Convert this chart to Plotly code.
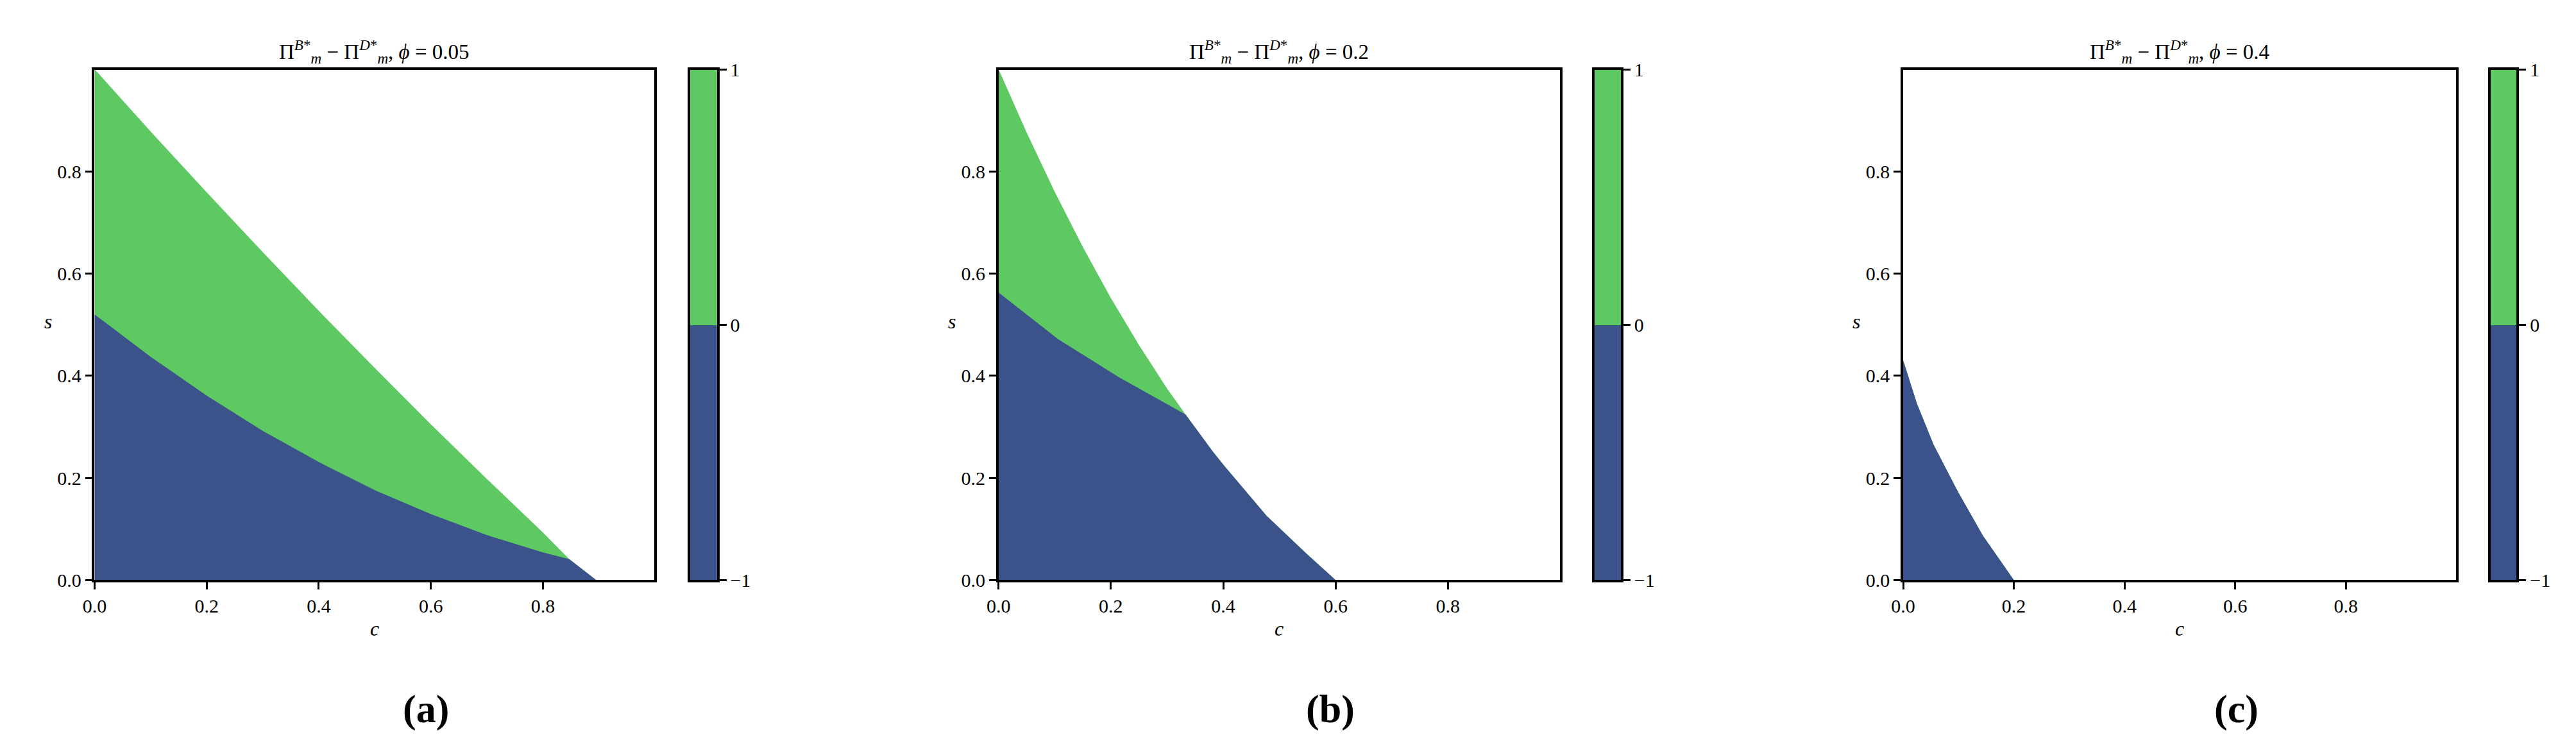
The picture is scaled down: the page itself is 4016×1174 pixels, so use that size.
import plotly.graph_objects as go

# ---------------- data ----------------
phis = ["0.05", "0.2", "0.4"]
panel_tags = ["(a)", "(b)", "(c)"]

# outer boundary of the region where the profit difference is defined
a_outer_c = [0.0, 0.1, 0.2, 0.3, 0.4, 0.5, 0.6, 0.7, 0.8, 0.847, 0.895]
a_outer_s = [1.0, 0.878, 0.759, 0.642, 0.527, 0.415, 0.305, 0.198, 0.093, 0.041, 0.0]
# divider between positive (green) and negative (blue) difference
a_div_c = [0.0, 0.1, 0.2, 0.3, 0.4, 0.5, 0.6, 0.7, 0.8, 0.847]
a_div_s = [0.52, 0.437, 0.361, 0.292, 0.231, 0.176, 0.129, 0.088, 0.054, 0.041]

b_outer_c = [0.0, 0.05, 0.1, 0.15, 0.2, 0.25, 0.3, 0.333, 0.381, 0.4016, 0.477, 0.548, 0.6]
b_outer_s = [1.0, 0.876, 0.760, 0.652, 0.552, 0.460, 0.375, 0.324, 0.252, 0.224, 0.126, 0.052, 0.0]
b_div_c = [0.0, 0.106, 0.216, 0.333]
b_div_s = [0.563, 0.4715, 0.396, 0.324]

c_outer_c = [0.0, 0.025, 0.055, 0.098, 0.144, 0.2]
c_outer_s = [0.43, 0.345, 0.265, 0.175, 0.087, 0.0]
c_div_c = [0.0]
c_div_s = [0.43]

outers = [(a_outer_c, a_outer_s), (b_outer_c, b_outer_s), (c_outer_c, c_outer_s)]
divs = [(a_div_c, a_div_s), (b_div_c, b_div_s), (c_div_c, c_div_s)]

ticks = [0.0, 0.2, 0.4, 0.6, 0.8]
tick_labels = ["0.0", "0.2", "0.4", "0.6", "0.8"]
cbar_levels = [-1, 0, 1]
cbar_labels = ["\u22121", "0", "1"]

BLUE = "#3b528b"
GREEN = "#5ec962"

# ---------------- layout geometry (pixels) ----------------
W, H = 4016, 1174
plot_x = [(121, 998), (1537, 2416), (2954, 3820)]
cbar_x = [(1054, 1096), (2471, 2512), (3874, 3915)]
top_px, bot_px = 87, 905
FONT = "Liberation Serif"


def px_x(p):
    return p / W


def px_y(p):
    return 1 - p / H


fig = go.Figure()
annotations = []
layout_axes = {}

for i in range(3):
    xa = f"x{i + 1}" if i else "x"
    ya = f"y{i + 1}" if i else "y"
    oc, os_ = outers[i]
    dc, ds = divs[i]
    # feasible region (green), then negative region (blue) on top
    fig.add_trace(go.Scatter(
        x=[0.0] + oc + [oc[-1], 0.0], y=[0.0] + os_ + [0.0, 0.0],
        mode="lines", fill="toself", fillcolor=GREEN,
        line=dict(width=0, color=GREEN), hoverinfo="skip", showlegend=False,
        xaxis=xa, yaxis=ya))
    tail_c = [c for c in oc if c > dc[-1]]
    tail_s = [s for c, s in zip(oc, os_) if c > dc[-1]]
    fig.add_trace(go.Scatter(
        x=[0.0] + dc + tail_c + [tail_c[-1] if tail_c else dc[-1], 0.0],
        y=[0.0] + ds + tail_s + [0.0, 0.0],
        mode="lines", fill="toself", fillcolor=BLUE,
        line=dict(width=0, color=BLUE), hoverinfo="skip", showlegend=False,
        xaxis=xa, yaxis=ya))

    common = dict(showgrid=False, zeroline=False, showline=True, linecolor="black",
                  linewidth=3.5, mirror=True, ticks="outside", ticklen=11, tickwidth=3,
                  tickcolor="black", tickfont=dict(family=FONT, size=30, color="black"),
                  tickvals=ticks, ticktext=tick_labels, range=[0, 0.999])
    xkey = "xaxis" + (str(i + 1) if i else "")
    ykey = "yaxis" + (str(i + 1) if i else "")
    layout_axes[xkey] = dict(common, domain=[px_x(plot_x[i][0]), px_x(plot_x[i][1])],
                             anchor=ya)
    layout_axes[ykey] = dict(common, domain=[px_y(bot_px), px_y(top_px)], anchor=xa)

    # colorbar as its own small axis pair
    cx = f"x{i + 4}"
    cy = f"y{i + 4}"
    cols = [BLUE, GREEN]
    for k in range(2):
        fig.add_trace(go.Bar(
            x=[0.5], y=[cbar_levels[k + 1] - cbar_levels[k]], base=[cbar_levels[k]],
            width=[1.0], marker=dict(color=cols[k], line=dict(width=0)),
            hoverinfo="skip", showlegend=False, xaxis=cx, yaxis=cy))
    layout_axes[f"xaxis{i + 4}"] = dict(
        domain=[px_x(cbar_x[i][0]), px_x(cbar_x[i][1])], anchor=cy, range=[0, 1],
        showgrid=False, zeroline=False, showticklabels=False, ticks="",
        showline=True, linecolor="black", linewidth=3.5, mirror=True, fixedrange=True)
    layout_axes[f"yaxis{i + 4}"] = dict(
        domain=[px_y(bot_px), px_y(top_px)], anchor=cx, range=[-1, 1], side="right",
        showgrid=False, zeroline=False, showline=True, linecolor="black", linewidth=3.5,
        mirror=True, ticks="outside", ticklen=11, tickwidth=3, tickcolor="black",
        tickvals=cbar_levels, ticktext=cbar_labels,
        tickfont=dict(family=FONT, size=30, color="black"))

    cx_center = (plot_x[i][0] + plot_x[i][1]) / 2
    # title
    annotations.append(dict(
        text=f"\u03a0<sup><i>B</i>*</sup><sub><i>m</i></sub> \u2212 "
             f"\u03a0<sup><i>D</i>*</sup><sub><i>m</i></sub>, <i>\u03d5</i> = {phis[i]}",
        x=px_x(cx_center), y=px_y(58), xref="paper", yref="paper",
        xanchor="center", yanchor="middle", showarrow=False,
        font=dict(family=FONT, size=33, color="black")))
    # axis labels
    annotations.append(dict(
        text="<i>c</i>", x=px_x(cx_center), y=px_y(983), xref="paper", yref="paper",
        xanchor="center", yanchor="middle", showarrow=False,
        font=dict(family=FONT, size=32, color="black")))
    annotations.append(dict(
        text="<i>s</i>", x=px_x(plot_x[i][0] - 73), y=px_y(490), xref="paper", yref="paper",
        xanchor="center", yanchor="middle", showarrow=False,
        font=dict(family=FONT, size=32, color="black")))

tag_x = [640, 2057, 3476]
for i in range(3):
    annotations.append(dict(
        text=f"<b>{panel_tags[i]}</b>", x=px_x(tag_x[i]), y=px_y(1112),
        xref="paper", yref="paper", xanchor="center", yanchor="middle", showarrow=False,
        font=dict(family=FONT, size=62, color="black")))

fig.update_layout(
    width=W, height=H, margin=dict(l=0, r=0, t=0, b=0),
    paper_bgcolor="white", plot_bgcolor="white", bargap=0, barmode="overlay",
    annotations=annotations, showlegend=False, **layout_axes)

fig.write_html("out.html")
